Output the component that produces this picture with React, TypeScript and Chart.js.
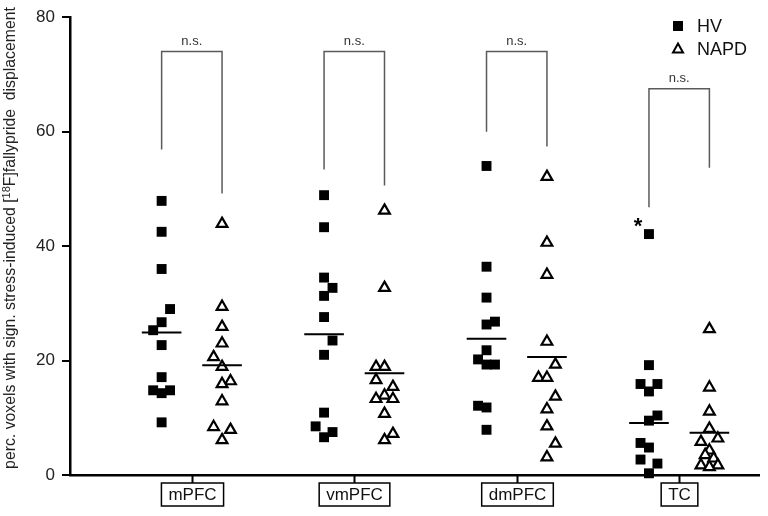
import React, { useEffect, useRef } from "react";
import { Chart, registerables } from "chart.js";

Chart.register(...registerables);

// ---------------- data ----------------
const categories = ["mPFC", "vmPFC", "dmPFC", "TC"];
const seriesNames = ["HV", "NAPD"];

const hvValues = [
  [47.9, 42.5, 36.0, 29.0, 26.7, 25.3, 22.7, 17.1, 14.8, 14.3, 14.8, 9.2],
  [48.9, 43.3, 34.5, 32.7, 31.3, 27.6, 23.5, 21.0, 10.9, 8.5, 7.5, 6.6],
  [54.0, 36.4, 31.0, 26.8, 26.3, 21.8, 20.2, 19.3, 19.3, 12.1, 11.8, 7.9],
  [42.1, 19.2, 15.9, 15.9, 14.6, 10.4, 9.5, 5.6, 4.8, 2.7, 2.0, 0.3],
];
// beeswarm lane of each HV point (left -1, centre 0, right +1)
const hvLanes = [
  [0, 0, 0, 1, 0, -1, 0, 0, -1, 0, 1, 0],
  [0, 0, 0, 1, 0, 0, 1, 0, 0, -1, 1, 0],
  [0, 0, 0, 1, 0, 0, -1, 0, 1, -1, 0, 0],
  [0, 0, -1, 1, 0, 1, 0, -1, 0, -1, 1, 0],
];

const napdValues = [
  [43.9, 29.4, 25.9, 23.0, 20.6, 18.9, 16.4, 15.9, 12.9, 8.4, 7.9, 6.1],
  [46.2, 32.7, 18.9, 18.9, 16.6, 15.4, 13.9, 13.3, 13.3, 10.7, 7.2, 6.1],
  [52.1, 40.6, 35.0, 23.3, 19.3, 17.0, 17.0, 13.7, 11.5, 8.5, 5.5, 3.1],
  [25.5, 15.3, 11.1, 8.1, 6.4, 5.8, 4.3, 3.5, 2.9, 1.7, 1.7, 1.4],
];
const napdLanes = [
  [0, 0, 0, 0, -1, 0, 1, 0, 0, -1, 1, 0],
  [0, 0, -1, 0, -1, 1, 0, -1, 1, 0, 1, 0],
  [0, 0, 0, 0, 1, -1, 0, 1, 0, 0, 1, 0],
  [0, 0, 0, 0, 1, -1, 0, -0.5, 0.5, -1, 1, 0],
];

const hvMeans = [24.9, 24.6, 23.8, 9.1];
const napdMeans = [19.2, 17.8, 20.6, 7.4];

const bracketTop = [74.0, 74.0, 74.0, 67.5];
const bracketLeftEnd = [56.9, 53.4, 60.0, 46.8];
const bracketRightEnd = [49.2, 50.6, 57.4, 53.7];
const bracketLabels = ["n.s.", "n.s.", "n.s.", "n.s."];

// outlier marked with an asterisk: [category index, point index]
const outlierMarks = [[3, 0]];

const yMin = 0;
const yMax = 80;
const yStep = 20;

// ---------------- layout constants ----------------
const HV_OFF = -0.187;
const NAPD_OFF = 0.185;
const LANE = 0.052;
const MEAN_HALF = 0.122;
const FONT = '"Liberation Sans", Arial, Helvetica, sans-serif';

function buildPoints(values: number[][], lanes: number[][], off: number) {
  const pts: { x: number; y: number }[] = [];
  values.forEach((vals, i) =>
    vals.forEach((v, k) => pts.push({ x: i + off + lanes[i][k] * LANE, y: v }))
  );
  return pts;
}

function buildMeans(means: number[], off: number) {
  const pts: { x: number; y: number | null }[] = [];
  means.forEach((m, i) => {
    pts.push({ x: i + off - MEAN_HALF, y: m });
    pts.push({ x: i + off + MEAN_HALF, y: m });
    pts.push({ x: i + off + MEAN_HALF + 0.01, y: null });
  });
  return pts;
}

function buildBrackets() {
  const pts: { x: number; y: number | null }[] = [];
  categories.forEach((_, i) => {
    pts.push({ x: i + HV_OFF, y: bracketLeftEnd[i] });
    pts.push({ x: i + HV_OFF, y: bracketTop[i] });
    pts.push({ x: i + NAPD_OFF, y: bracketTop[i] });
    pts.push({ x: i + NAPD_OFF, y: bracketRightEnd[i] });
    pts.push({ x: i + NAPD_OFF + 0.01, y: null });
  });
  return pts;
}

const decorPlugin = {
  id: "decor",
  afterDraw(chart: any) {
    const { ctx } = chart;
    const xs = chart.scales.x;
    const ys = chart.scales.y;
    const area = chart.chartArea;
    ctx.save();

    // n.s. labels
    ctx.fillStyle = "#333";
    ctx.font = `13px ${FONT}`;
    ctx.textAlign = "center";
    ctx.textBaseline = "middle";
    categories.forEach((_, i) => {
      const cx = (xs.getPixelForValue(i + HV_OFF) + xs.getPixelForValue(i + NAPD_OFF)) / 2;
      ctx.fillText(bracketLabels[i], cx, ys.getPixelForValue(bracketTop[i]) - 10);
    });

    // asterisks
    ctx.fillStyle = "#000";
    ctx.font = `bold 22px ${FONT}`;
    ctx.textBaseline = "alphabetic";
    outlierMarks.forEach(([ci, pi]) => {
      const px = xs.getPixelForValue(ci + HV_OFF + hvLanes[ci][pi] * LANE);
      const py = ys.getPixelForValue(hvValues[ci][pi]);
      ctx.fillText("*", px - 11, py - 1);
    });

    // category ticks and boxed labels
    ctx.font = `17px ${FONT}`;
    ctx.textBaseline = "middle";
    ctx.strokeStyle = "#000";
    categories.forEach((c, i) => {
      const px = Math.round(xs.getPixelForValue(i)) + 0.5;
      const top = area.bottom;
      ctx.lineWidth = 2;
      ctx.beginPath();
      ctx.moveTo(px, top);
      ctx.lineTo(px, top + 8);
      ctx.stroke();
      const w = ctx.measureText(c).width + 14;
      ctx.lineWidth = 1.5;
      ctx.strokeRect(px - w / 2, top + 8, w, 23);
      ctx.fillStyle = "#111";
      ctx.fillText(c, px, top + 20);
    });

    // legend
    const lx = 678;
    ctx.fillStyle = "#000";
    ctx.fillRect(lx - 5, 26 - 5, 10, 10);
    ctx.beginPath();
    ctx.moveTo(lx, 49 - 5.5);
    ctx.lineTo(lx + 5, 49 + 3.5);
    ctx.lineTo(lx - 5, 49 + 3.5);
    ctx.closePath();
    ctx.lineWidth = 2;
    ctx.fillStyle = "#fff";
    ctx.fill();
    ctx.stroke();
    ctx.fillStyle = "#111";
    ctx.font = `18px ${FONT}`;
    ctx.textAlign = "left";
    ctx.fillText(seriesNames[0], lx + 19, 27);
    ctx.fillText(seriesNames[1], lx + 19, 50);

    // y-axis title with superscript
    ctx.translate(11, 238);
    ctx.rotate(-Math.PI / 2);
    const partA = "perc. voxels with sign. stress-induced [";
    const sup = "18";
    const partB = "F]fallypride  displacement";
    ctx.font = `15.8px ${FONT}`;
    const wA = ctx.measureText(partA).width;
    const wB = ctx.measureText(partB).width;
    ctx.font = `11px ${FONT}`;
    const wS = ctx.measureText(sup).width;
    const total = wA + wS + wB;
    let x0 = -total / 2;
    ctx.fillStyle = "#222";
    ctx.textBaseline = "middle";
    ctx.font = `15.8px ${FONT}`;
    ctx.fillText(partA, x0, 0);
    x0 += wA;
    ctx.font = `11px ${FONT}`;
    ctx.fillText(sup, x0, -4.5);
    x0 += wS;
    ctx.font = `15.8px ${FONT}`;
    ctx.fillText(partB, x0, 0);

    ctx.restore();
  },
};

export default function App() {
  const ref = useRef<HTMLCanvasElement | null>(null);

  useEffect(() => {
    document.body.style.margin = "0";
    const canvas = ref.current;
    if (!canvas) return;
    const chart = new Chart(canvas, {
      type: "scatter",
      data: {
        datasets: [
          {
            type: "line",
            label: "brackets",
            data: buildBrackets(),
            borderColor: "#5a5a5a",
            borderWidth: 1.5,
            pointRadius: 0,
            spanGaps: false,
            fill: false,
            order: 4,
            clip: false,
          } as any,
          {
            label: seriesNames[0],
            data: buildPoints(hvValues, hvLanes, HV_OFF),
            pointStyle: "rect",
            pointRadius: 7,
            backgroundColor: "#000",
            borderColor: "#000",
            borderWidth: 0,
            order: 3,
            clip: false,
          } as any,
          {
            label: seriesNames[1],
            data: buildPoints(napdValues, napdLanes, NAPD_OFF),
            pointStyle: "triangle",
            pointRadius: 6.2,
            backgroundColor: "#fff",
            borderColor: "#000",
            borderWidth: 2.2,
            order: 2,
            clip: false,
          } as any,
          {
            type: "line",
            label: "means",
            data: [...buildMeans(hvMeans, HV_OFF), ...buildMeans(napdMeans, NAPD_OFF)],
            borderColor: "#000",
            borderWidth: 2,
            pointRadius: 0,
            spanGaps: false,
            fill: false,
            order: 1,
            clip: false,
          } as any,
        ],
      },
      options: {
        responsive: false,
        animation: false,
        devicePixelRatio: 1,
        layout: { padding: { top: 13, right: 3, left: 0, bottom: 0 } },
        plugins: { legend: { display: false }, tooltip: { enabled: false } },
        scales: {
          x: {
            type: "linear",
            min: -0.751,
            max: 3.494,
            ticks: { display: false },
            grid: { display: false },
            border: { display: true, color: "#000", width: 2.5 },
            afterFit: (s: any) => {
              s.height = 41;
            },
          },
          y: {
            min: yMin,
            max: yMax,
            ticks: {
              stepSize: yStep,
              padding: 7,
              color: "#222",
              font: { family: FONT, size: 17 },
            },
            grid: {
              display: true,
              drawOnChartArea: false,
              drawTicks: true,
              tickLength: 8,
              color: "#000",
              lineWidth: 2,
            },
            border: { display: true, color: "#000", width: 2.5 },
            afterFit: (s: any) => {
              s.width = 70;
            },
          },
        },
      },
      plugins: [decorPlugin],
    } as any);
    return () => chart.destroy();
  }, []);

  return (
    <div style={{ width: 768, height: 516, background: "#fff" }}>
      <canvas ref={ref} width={768} height={516} style={{ display: "block" }} />
    </div>
  );
}
